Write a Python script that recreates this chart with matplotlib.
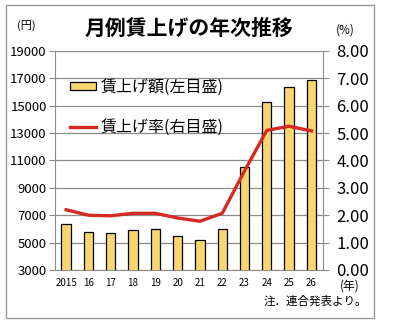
import matplotlib.pyplot as plt
from matplotlib.patches import Rectangle, Patch
from matplotlib.lines import Line2D

plt.rcParams['font.family'] = ['Noto Sans CJK JP', 'DejaVu Sans']

# data
years = ['2015', '16', '17', '18', '19', '20', '21', '22', '23', '24', '25', '26']
wage_yen = [6354, 5779, 5712, 5934, 5997, 5506, 5180, 6004, 10560, 15281, 16356, 16900]
wage_pct = [2.20, 2.00, 1.98, 2.07, 2.07, 1.90, 1.78, 2.07, 3.62, 5.10, 5.25, 5.08]

left_ticks = list(range(3000, 19001, 2000))
right_ticks = list(range(0, 9))

BAR_COLOR = '#FAD66E'
LINE_COLOR = '#D42A22'
GRID = '#8C8C8C'

fig = plt.figure(figsize=(3.93, 3.24), dpi=100)
ax = fig.add_axes([0.140, 0.1667, 0.6807, 0.676])
ax2 = ax.twinx()

x = list(range(len(years)))
ax.bar(x, wage_yen, width=0.42, color=BAR_COLOR, edgecolor='black', linewidth=0.9, zorder=3)
ax.set_ylim(3000, 19000)
ax.set_xlim(-0.5, len(years) - 0.5)
ax.set_yticks(left_ticks)
ax.set_yticklabels([str(v) for v in left_ticks], fontsize=9.5)
ax.set_xticks(x)
ax.set_xticklabels(years, fontsize=7)
ax.tick_params(axis='x', length=0, pad=6)
ax.tick_params(axis='y', length=4, width=0.8, color=GRID, pad=2)
ax.grid(axis='y', color=GRID, linewidth=0.9, zorder=0)
ax.set_axisbelow(True)
ax.spines['top'].set_visible(False)
ax.spines['left'].set_color(GRID)
ax.spines['bottom'].set_color(GRID)
ax.spines['right'].set_visible(False)

ax2.plot(x, wage_pct, color=LINE_COLOR, linewidth=2.4, zorder=4, solid_joinstyle='round')
ax2.set_ylim(0, 8)
ax2.set_yticks(right_ticks)
ax2.set_yticklabels([f'{v:.2f}' for v in right_ticks], fontsize=12)
ax2.tick_params(axis='y', length=4, width=0.8, color=GRID, pad=6)
ax2.spines['right'].set_color(GRID)
for side in ['top', 'left', 'bottom']:
    ax2.spines[side].set_visible(False)

handles = [Patch(facecolor=BAR_COLOR, edgecolor='black', linewidth=0.9),
           Line2D([0], [0], color=LINE_COLOR, linewidth=2.4)]
labels = ['賃上げ額(左目盛)', '賃上げ率(右目盛)']
fig.legend(handles, labels, loc='upper left', bbox_to_anchor=(0.178, 0.758),
           frameon=False, fontsize=11.5, handlelength=1.6, handleheight=0.4,
           handletextpad=0.3, labelspacing=1.45, borderpad=0, borderaxespad=0)

fig.text(0.481, 0.913, '月例賃上げの年次推移', ha='center', va='center',
         fontsize=15, fontweight='bold')
fig.text(0.066, 0.922, '(円)', ha='center', va='center', fontsize=8)
fig.text(0.878, 0.907, '(%)', ha='center', va='center', fontsize=8.5)
fig.text(0.890, 0.118, '(年)', ha='center', va='center', fontsize=8.5)
fig.text(0.935, 0.071, '注．連合発表より。', ha='right', va='center', fontsize=8.3)

fig.patches.append(Rectangle((0.016, 0.019), 0.936, 0.966, transform=fig.transFigure,
                             fill=False, edgecolor='#999999', linewidth=1.0))

fig.savefig('out.png', dpi=100)
